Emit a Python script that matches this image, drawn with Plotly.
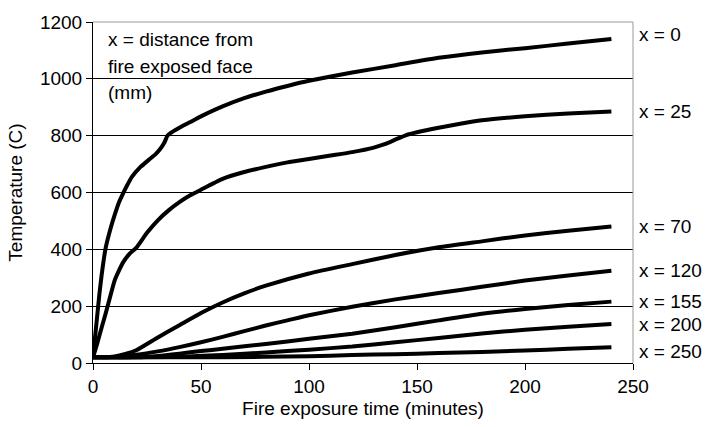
import plotly.graph_objects as go

# Fire exposure time (minutes) and temperatures (C) at each depth x (mm)
t_x0 = [0, 1, 2, 3, 4, 5, 6, 8, 10, 12, 14, 16, 18, 22, 26, 29, 31, 33, 34.5, 36, 40, 45, 50, 60, 70, 80, 90, 100, 120, 140, 160, 180, 200, 220, 240]
T_x0 = [20, 95, 170, 245, 310, 365, 410, 470, 520, 565, 598, 628, 655, 690, 716, 735, 752, 775, 800, 810, 828, 848, 868, 903, 932, 955, 975, 993, 1022, 1048, 1074, 1093, 1108, 1124, 1140]

t_x25 = [0, 2, 4, 6, 8, 10, 12, 14, 17, 20, 25, 30, 35, 40, 45, 50, 60, 70, 80, 90, 100, 110, 120, 130, 135, 140, 145, 150, 160, 170, 180, 200, 220, 240]
T_x25 = [20, 70, 125, 178, 235, 290, 325, 355, 385, 405, 458, 502, 537, 566, 590, 610, 648, 672, 690, 706, 718, 730, 742, 758, 770, 786, 802, 812, 828, 842, 854, 868, 878, 885]

t_x70 = [0, 5, 10, 15, 20, 30, 40, 50, 60, 70, 80, 100, 120, 140, 160, 180, 200, 220, 240]
T_x70 = [20, 20, 23, 32, 45, 90, 133, 176, 213, 245, 272, 315, 348, 380, 407, 428, 449, 465, 480]

t_x120 = [0, 10, 20, 30, 40, 50, 60, 70, 80, 90, 100, 120, 140, 160, 180, 200, 220, 240]
T_x120 = [20, 21, 29, 41, 56, 73, 92, 112, 132, 150, 168, 198, 224, 246, 268, 290, 308, 325]

t_x155 = [0, 20, 30, 40, 50, 60, 80, 100, 120, 140, 160, 180, 200, 220, 240]
T_x155 = [20, 20, 25, 33, 42, 50, 67, 85, 103, 126, 150, 173, 190, 204, 216]

t_x200 = [0, 40, 60, 80, 100, 120, 140, 160, 180, 200, 220, 240]
T_x200 = [20, 22, 28, 37, 47, 58, 73, 88, 104, 117, 128, 137]

t_x250 = [0, 60, 100, 120, 140, 160, 180, 200, 220, 240]
T_x250 = [20, 20, 24, 28, 31, 35, 39, 44, 50, 55]

series = [
    ("x = 0", t_x0, T_x0),
    ("x = 25", t_x25, T_x25),
    ("x = 70", t_x70, T_x70),
    ("x = 120", t_x120, T_x120),
    ("x = 155", t_x155, T_x155),
    ("x = 200", t_x200, T_x200),
    ("x = 250", t_x250, T_x250),
]

# label positions (temperature at which each right-side label sits)
label_y = [1155, 885, 479, 324, 215, 135, 42]

x_ticks = [0, 50, 100, 150, 200, 250]
y_ticks = [0, 200, 400, 600, 800, 1000, 1200]

note_lines = ["x = distance from", "fire exposed face", "(mm)"]
note_y = [1138, 1045, 952]

FONT = "Liberation Sans, Arial, sans-serif"
FS = 19

fig = go.Figure()
for name, t, T in series:
    fig.add_trace(go.Scatter(x=t, y=T, mode="lines", name=name,
                             line=dict(color="black", width=4, shape="spline", smoothing=0.5),
                             showlegend=False))

for (name, _, _), ly in zip(series, label_y):
    fig.add_annotation(x=1.0074, y=ly, xref="paper", yref="y", text=name,
                       showarrow=False, xanchor="left", yanchor="middle",
                       font=dict(family=FONT, size=FS, color="black"))

for txt, ny in zip(note_lines, note_y):
    fig.add_annotation(x=6.0, y=ny, xref="x", yref="y", text=txt,
                       showarrow=False, xanchor="left", yanchor="middle",
                       font=dict(family=FONT, size=FS, color="black"))

# gray top and right border
fig.add_shape(type="line", xref="paper", yref="paper", x0=0, x1=1, y0=1, y1=1,
              line=dict(color="#999999", width=1), layer="above")
fig.add_shape(type="line", xref="paper", yref="paper", x0=1, x1=1, y0=0, y1=1,
              line=dict(color="#999999", width=1), layer="above")

fig.update_layout(
    width=705, height=427,
    margin=dict(l=93, r=72, t=19, b=63),
    paper_bgcolor="white", plot_bgcolor="white",
    font=dict(family=FONT, size=FS, color="black"),
)
fig.update_xaxes(range=[0, 250], tickvals=x_ticks, ticks="outside", ticklen=6,
                 tickcolor="black", showline=True, linecolor="black", linewidth=1,
                 showgrid=False, zeroline=False,
                 title=dict(text="Fire exposure time (minutes)", standoff=5,
                            font=dict(size=FS)),
                 tickfont=dict(size=FS))
fig.update_yaxes(range=[0, 1200], tickvals=y_ticks, ticks="outside", ticklen=6,
                 tickcolor="black", showline=True, linecolor="black", linewidth=1,
                 showgrid=True, gridcolor="black", gridwidth=1, zeroline=False,
                 title=dict(text="Temperature (C)", standoff=12, font=dict(size=FS)),
                 tickfont=dict(size=FS))

fig.write_html("out.html")
